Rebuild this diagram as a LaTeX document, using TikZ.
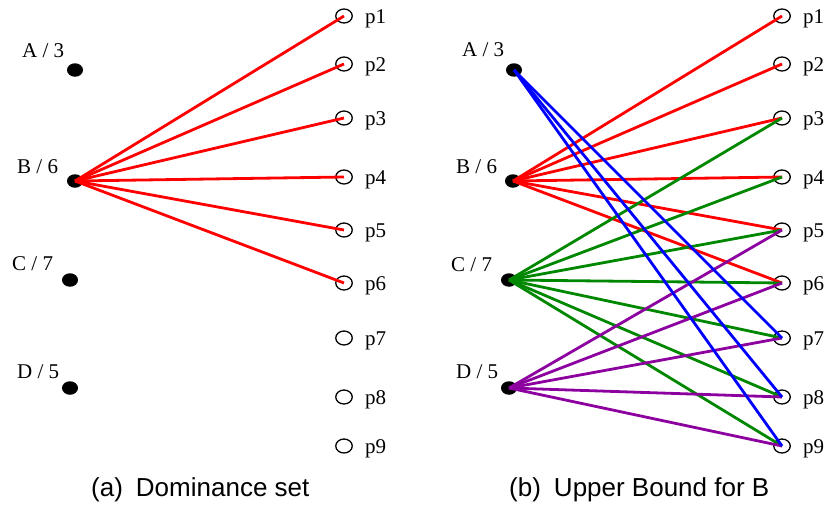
\documentclass[tikz,border=0pt]{standalone}
\usepackage{fontspec}
\setmainfont{Liberation Serif}
\newfontfamily\capfont{Liberation Sans}
\usetikzlibrary{shapes.geometric}
\definecolor{edgered}{RGB}{255,0,0}
\definecolor{edgeblue}{RGB}{0,0,255}
\definecolor{edgegreen}{RGB}{0,135,0}
\definecolor{edgepurple}{RGB}{140,0,160}
\begin{document}
\begin{tikzpicture}[x=1pt,y=-1pt,
  dot/.style={ellipse,fill=black,minimum width=16pt,minimum height=13.5pt,inner sep=0pt},
  item/.style={ellipse,draw=black,line width=1.3pt,fill=white,minimum width=16.5pt,minimum height=14pt,inner sep=0pt},
  lbl/.style={font=\fontsize{21}{24}\selectfont,inner sep=0pt,anchor=base west},
  caption/.style={font=\capfont\fontsize{26}{29}\selectfont,inner sep=0pt,anchor=base west},
  link/.style={line width=2.8pt}]
\useasboundingbox (0,0) rectangle (826,506);

% ---------- (a) dominance set ----------
\node[dot] (lA) at (75,70) {};
\node[dot] (lB) at (75,181) {};
\node[dot] (lC) at (70,280) {};
\node[dot] (lD) at (70,388) {};
\node[lbl] (lAt) at (22,57) {A / 3};
\node[lbl] (lBt) at (17,173) {B / 6};
\node[lbl] (lCt) at (12,270) {C / 7};
\node[lbl] (lDt) at (17,378) {D / 5};
\foreach \i/\y in {1/16,2/64,3/118,4/177,5/230,6/283,7/338,8/397,9/446}{
  \node[item] (lp\i) at (344,\y) {};
  \node[lbl] (lpt\i) at (365,\y+7) {p\i};
}
\foreach \i in {1,...,6}
  \draw[link,edgered] (lB.center) -- (lp\i.center);
\node[caption] (capa) at (91,496) {(a)\hspace{13pt}Dominance set};

% ---------- (b) upper bound for B ----------
\node[dot] (rA) at (514,70) {};
\node[dot] (rB) at (513,181) {};
\node[dot] (rC) at (509,280) {};
\node[dot] (rD) at (509,388) {};
\node[lbl] (rAt) at (462,56) {A / 3};
\node[lbl] (rBt) at (456,173) {B / 6};
\node[lbl] (rCt) at (451,271) {C / 7};
\node[lbl] (rDt) at (456,378) {D / 5};
\foreach \i/\y in {1/16,2/64,3/118,4/177,5/230,6/283,7/338,8/397,9/446}{
  \node[item] (rp\i) at (782,\y) {};
  \node[lbl] (rpt\i) at (803,\y+7) {p\i};
}
\foreach \i in {1,...,6}
  \draw[link,edgered] (rB.center) -- (rp\i.center);
\foreach \i in {3,...,9}
  \draw[link,edgegreen] (rC.center) -- (rp\i.center);
\foreach \i in {5,...,9}
  \draw[link,edgepurple] (rD.center) -- (rp\i.center);
\foreach \i in {7,8,9}
  \draw[link,edgeblue] (rA.center) -- (rp\i.center);
\node[caption] (capb) at (509,496) {(b)\hspace{13pt}Upper Bound for B};
\end{tikzpicture}
\end{document}
